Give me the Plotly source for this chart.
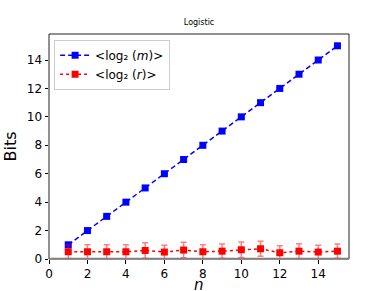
import plotly.graph_objects as go

n = list(range(1, 16))
log_m = [1, 2, 3, 4, 5, 6, 7, 8, 9, 10, 11, 12, 13, 14, 15]
log_m_err = [0.05] * 15
log_r = [0.51, 0.51, 0.51, 0.51, 0.60, 0.49, 0.63, 0.51, 0.55, 0.65, 0.72, 0.44, 0.55, 0.49, 0.55]
log_r_err = [0.47, 0.50, 0.50, 0.49, 0.54, 0.47, 0.55, 0.50, 0.50, 0.54, 0.53, 0.49, 0.52, 0.48, 0.50]
x_ticks = [0, 2, 4, 6, 8, 10, 12, 14]
y_ticks = [0, 2, 4, 6, 8, 10, 12, 14]

fig = go.Figure()
fig.add_trace(go.Scatter(
    x=n, y=log_m, mode="lines+markers",
    name="&lt;log₂ (<i>m</i>)&gt;",
    line=dict(color="blue", dash="5px,3px", width=1.5),
    marker=dict(symbol="square", size=7, color="blue"),
    error_y=dict(type="data", array=log_m_err, color="rgba(0,0,255,0.5)", thickness=1.5, width=3),
))
fig.add_trace(go.Scatter(
    x=n, y=log_r, mode="lines+markers",
    name="&lt;log₂ (<i>r</i>)&gt;",
    line=dict(color="red", dash="dot", width=1.5),
    marker=dict(symbol="square", size=7, color="red"),
    error_y=dict(type="data", array=log_r_err, color="rgba(255,0,0,0.5)", thickness=1.5, width=3),
))

fig.add_shape(type="rect", xref="paper", yref="paper", x0=0, y0=0, x1=1, y1=1,
              line=dict(color="#222", width=1), layer="above")
fig.add_shape(type="line", xref="paper", yref="y", x0=0, x1=1, y0=0, y1=0,
              line=dict(color="gray", width=2.5), layer="above")

fig.add_annotation(text="<i>n</i>", xref="paper", yref="paper", x=0.5, y=0,
                   xanchor="center", yanchor="top", yshift=-15, showarrow=False,
                   font=dict(size=15))

fig.update_layout(
    width=388, height=291,
    margin=dict(l=49, r=39, t=34, b=32, autoexpand=False),
    paper_bgcolor="white", plot_bgcolor="white",
    font=dict(family="DejaVu Sans", size=12, color="black"),
    title=dict(text="Logistic", x=0.513, xanchor="center", y=0.915, yanchor="bottom",
               font=dict(size=8)),
    showlegend=True,
    legend=dict(x=0.017, y=0.975, xanchor="left", yanchor="top",
                bgcolor="rgba(255,255,255,0.8)", bordercolor="#ccc", borderwidth=1,
                font=dict(size=12), itemwidth=30, tracegroupgap=0),
    xaxis=dict(range=[0, 15.6], tickvals=x_ticks, showgrid=False, zeroline=False,
               ticks="outside", ticklen=3.5, tickcolor="black", showline=False,
               automargin=True),
    yaxis=dict(range=[0, 15.83], tickvals=y_ticks, showgrid=False, zeroline=False,
               ticks="outside", ticklen=3.5, tickcolor="black", showline=False,
               automargin=True,
               title=dict(text="Bits", font=dict(size=16), standoff=6)),
)

fig.write_html("out.html", post_script="document.body.style.margin='0';",
               config={"displayModeBar": False})
